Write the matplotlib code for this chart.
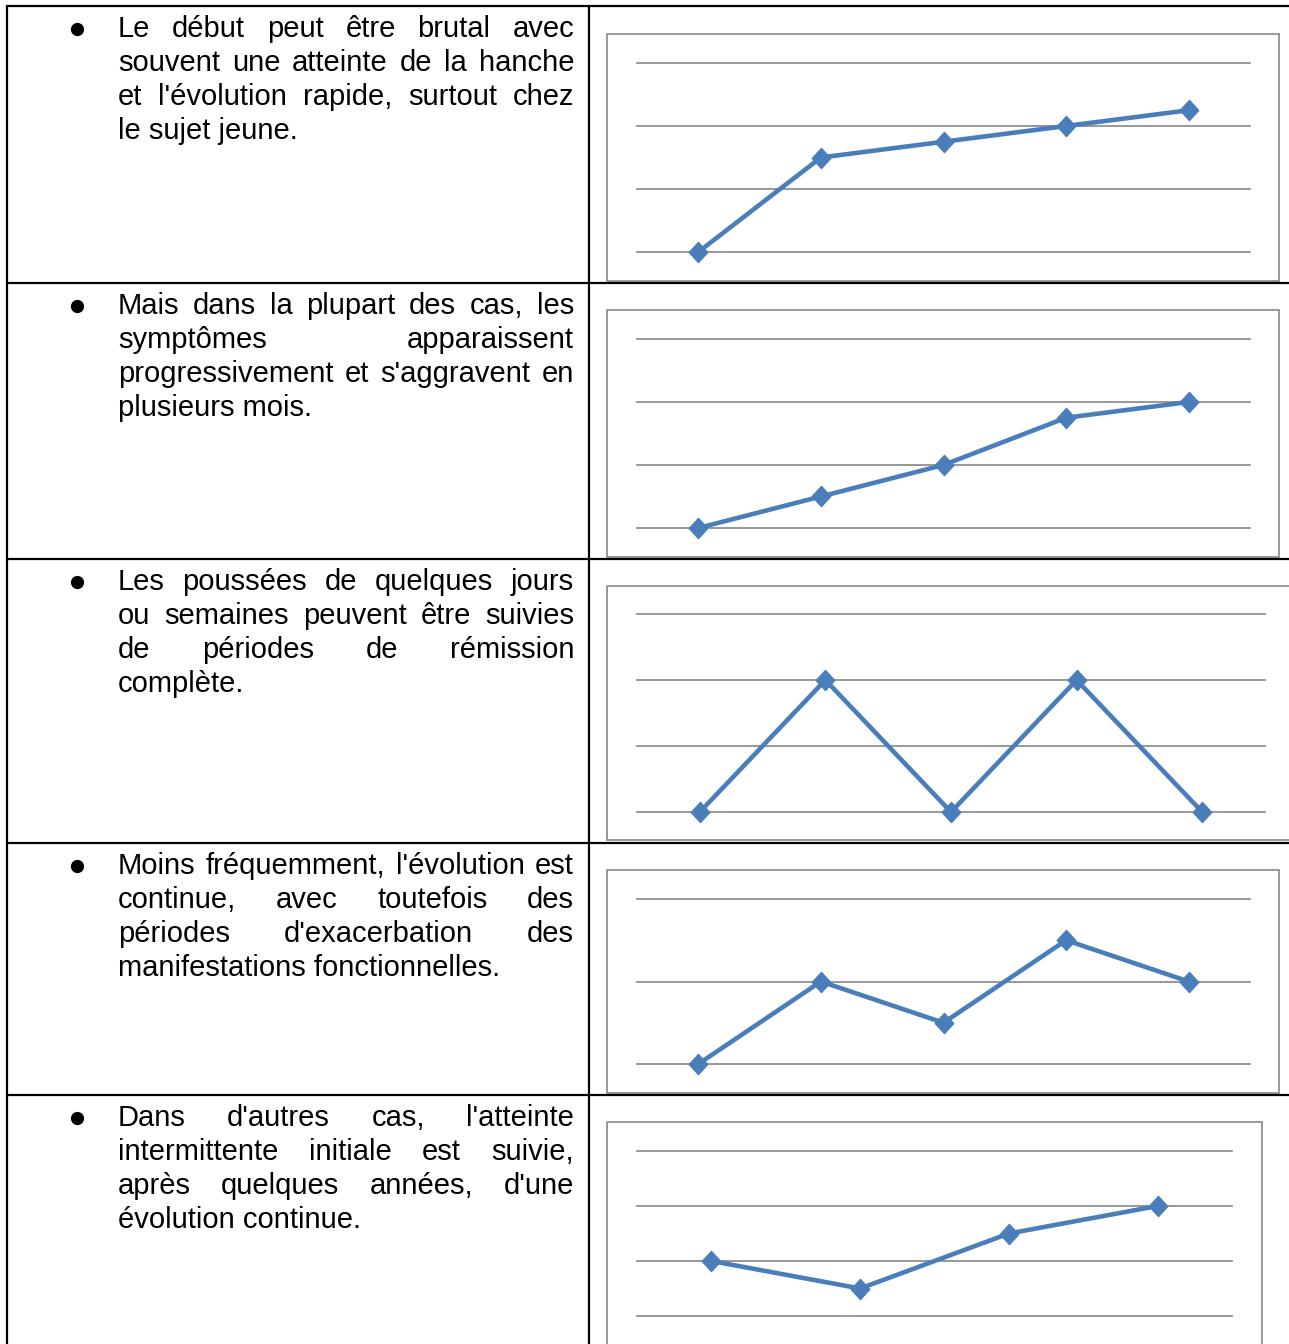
import numpy as np
import matplotlib
matplotlib.use("Agg")
from matplotlib import pyplot as plt
from matplotlib.path import Path
from matplotlib.patches import Rectangle

# text of each table row (line breaks as in the document)
row_lines = [
    ["Le début peut être brutal avec", "souvent une atteinte de la hanche",
     "et l'évolution rapide, surtout chez", "le sujet jeune."],
    ["Mais dans la plupart des cas, les", "symptômes apparaissent",
     "progressivement et s'aggravent en", "plusieurs mois."],
    ["Les poussées de quelques jours", "ou semaines peuvent être suivies",
     "de périodes de rémission", "complète."],
    ["Moins fréquemment, l'évolution est", "continue, avec toutefois des",
     "périodes d'exacerbation des", "manifestations fonctionnelles."],
    ["Dans d'autres cas, l'atteinte", "intermittente initiale est suivie,",
     "après quelques années, d'une", "évolution continue."],
]

# values of the small line charts
series_1 = [0, 1.5, 1.75, 2, 2.25]
series_2 = [0, 0.5, 1, 1.75, 2]
series_3 = [0, 2, 0, 2, 0]
series_4 = [0, 1, 0.5, 1.5, 1]
series_5 = [1, 0.5, 1.5, 2]
y_max = [3, 3, 3, 2, 3]
all_series = [series_1, series_2, series_3, series_4, series_5]

W, H = 1289, 1344
fig = plt.figure(figsize=(W / 100, H / 100), dpi=100)
bg = fig.add_axes([0, 0, 1, 1])
bg.set_xlim(0, W)
bg.set_ylim(H, 0)
bg.axis("off")

# table rules
row_tops = [6, 283, 559, 843, 1095]
for y in row_tops:
    bg.plot([6, W], [y, y], color="black", lw=1.6, solid_capstyle="butt")
for x in [7, 589]:
    bg.plot([x, x], [5, H], color="black", lw=1.6, solid_capstyle="butt")

# justified paragraphs
font = dict(family="Liberation Sans", fontsize=21, color="black")
renderer = fig.canvas.get_renderer()
x_left, x_right = 118, 574
line_step = 34
for top, lines in zip(row_tops, row_lines):
    base = top + 31
    bg.plot([77], [base - 8], "o", color="black", markersize=8.5)
    for i, line in enumerate(lines):
        y = base + i * line_step
        if i == len(lines) - 1:
            bg.text(x_left, y, line, va="baseline", **font)
            continue
        words = line.split(" ")
        txts = [bg.text(0, y, w, va="baseline", **font) for w in words]
        widths = [t.get_window_extent(renderer).width for t in txts]
        gap = (x_right - x_left - sum(widths)) / (len(words) - 1)
        xpos = x_left
        for t, wd in zip(txts, widths):
            t.set_x(xpos)
            xpos += wd + gap

# chart frames (pixel boxes) and plot areas
frames = [(607, 34, 1279, 281), (607, 310, 1279, 557), (607, 586, 1300, 840),
          (607, 870, 1279, 1093), (607, 1122, 1262, 1370)]
plot_areas = [(637, 63, 1250, 252), (637, 339, 1250, 528), (637, 614, 1265, 812),
              (637, 899, 1250, 1064), (637, 1151, 1232, 1316)]

gray = "#868686"
blue = "#4A7EBB"
diamond = Path([(0, 1), (0.92, 0), (0, -1), (-0.92, 0), (0, 1)],
               [Path.MOVETO, Path.LINETO, Path.LINETO, Path.LINETO, Path.CLOSEPOLY])

for (fx0, fy0, fx1, fy1), (px0, py0, px1, py1), vals, ym in zip(frames, plot_areas, all_series, y_max):
    bg.add_patch(Rectangle((fx0, fy0), fx1 - fx0, fy1 - fy0, fill=False,
                           edgecolor=gray, lw=1.2, clip_on=False))
    ax = fig.add_axes([px0 / W, 1 - py1 / H, (px1 - px0) / W, (py1 - py0) / H])
    ax.set_xlim(-0.5, len(vals) - 0.5)
    ax.set_ylim(0, ym)
    ax.axis("off")
    for g in range(ym + 1):
        ax.axhline(g, color=gray, lw=1.2, clip_on=False, zorder=1)
    ax.plot(range(len(vals)), vals, color=blue, lw=3.3, marker=diamond,
            markersize=14.5, clip_on=False, zorder=3)

fig.savefig("out.png", dpi=100)
